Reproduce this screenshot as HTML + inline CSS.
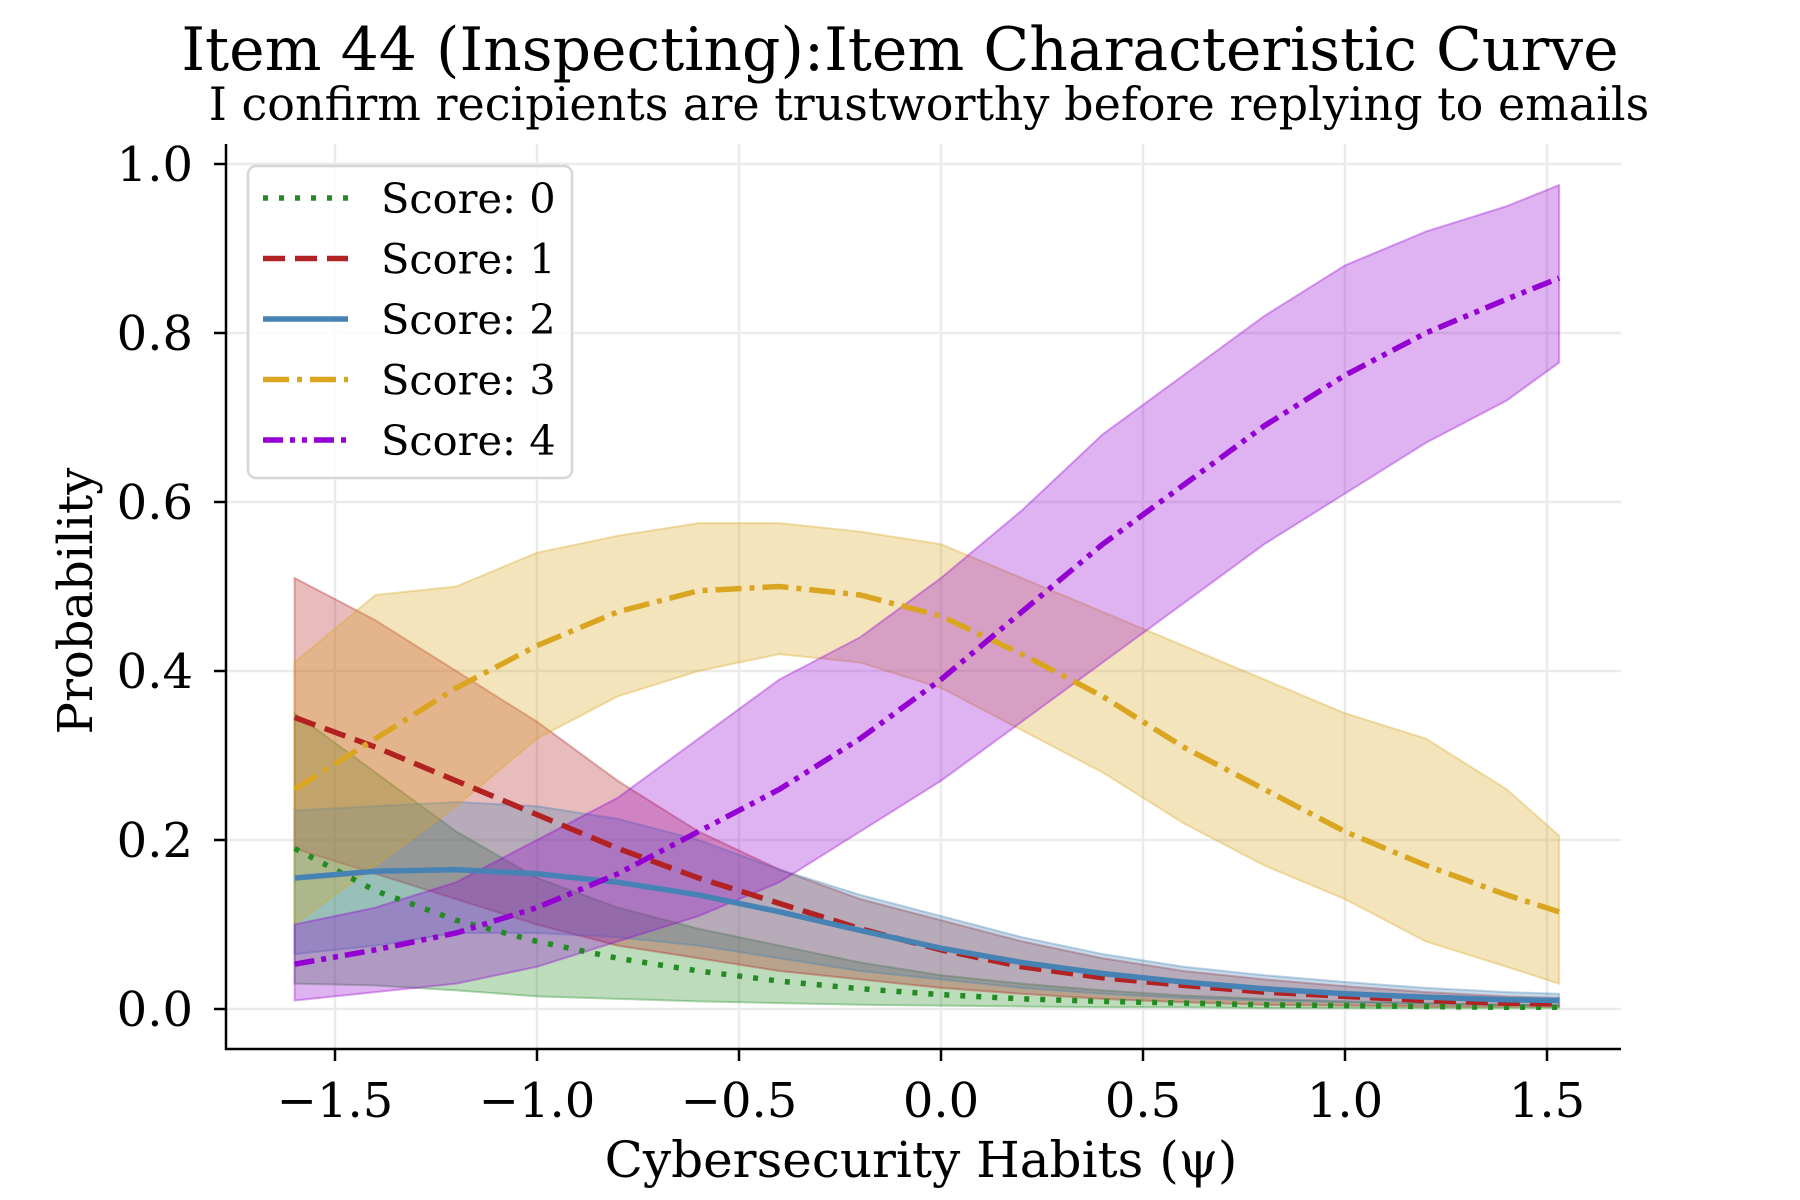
<!DOCTYPE html>
<html><head><meta charset="utf-8"><style>
html,body{margin:0;padding:0;background:#fff;}
svg{display:block;font-family:"DejaVu Serif","Liberation Serif",serif;}
</style></head><body>
<svg id="chart" width="1800" height="1200" viewBox="0 0 1800 1200">
<text x="900" y="70" font-size="60" text-anchor="middle">Item 44 (Inspecting):Item Characteristic Curve</text>
<text x="929" y="120" font-size="46" text-anchor="middle">I confirm recipients are trustworthy before replying to emails</text>
<g id="grid"></g>
<g id="plot"></g>
<g id="axes"></g>
<text x="921" y="1177" font-size="50" text-anchor="middle">Cybersecurity Habits (ψ)</text>
<text x="0" y="0" font-size="48" text-anchor="middle" transform="translate(92,601) rotate(-90)">Probability</text>
<g id="legend"></g>
</svg>
<script>
const xs = [-1.6,-1.4,-1.2,-1.0,-0.8,-0.6,-0.4,-0.2,0,0.2,0.4,0.6,0.8,1.0,1.2,1.4,1.53];
const seriesLabels = ["Score: 0","Score: 1","Score: 2","Score: 3","Score: 4"];
const mean0 = [0.19,0.14,0.105,0.08,0.06,0.045,0.033,0.024,0.017,0.012,0.009,0.007,0.005,0.004,0.003,0.002,0.002];
const lower0 = [0.03,0.028,0.022,0.015,0.012,0.009,0.007,0.005,0.004,0.003,0.002,0.002,0.001,0.001,0.001,0.001,0.001];
const upper0 = [0.35,0.28,0.21,0.155,0.12,0.095,0.075,0.055,0.04,0.03,0.022,0.016,0.012,0.009,0.007,0.005,0.004];
const mean1 = [0.345,0.31,0.27,0.23,0.19,0.155,0.125,0.095,0.07,0.05,0.037,0.028,0.02,0.015,0.01,0.007,0.006];
const lower1 = [0.19,0.16,0.13,0.10,0.075,0.06,0.045,0.035,0.025,0.018,0.012,0.008,0.005,0.004,0.003,0.003,0.003];
const upper1 = [0.51,0.46,0.40,0.34,0.27,0.21,0.165,0.13,0.105,0.08,0.06,0.045,0.035,0.027,0.02,0.015,0.013];
const mean2 = [0.155,0.163,0.165,0.16,0.15,0.135,0.115,0.093,0.072,0.055,0.042,0.032,0.024,0.018,0.014,0.011,0.01];
const lower2 = [0.065,0.075,0.09,0.09,0.085,0.075,0.06,0.045,0.035,0.025,0.018,0.013,0.01,0.008,0.006,0.005,0.004];
const upper2 = [0.235,0.24,0.245,0.24,0.225,0.2,0.165,0.135,0.11,0.085,0.065,0.05,0.04,0.032,0.025,0.02,0.018];
const mean3 = [0.26,0.32,0.38,0.43,0.47,0.495,0.50,0.49,0.465,0.42,0.37,0.31,0.26,0.21,0.17,0.135,0.115];
const lower3 = [0.10,0.17,0.24,0.32,0.37,0.40,0.42,0.41,0.38,0.33,0.28,0.22,0.17,0.13,0.08,0.05,0.03];
const upper3 = [0.41,0.49,0.50,0.54,0.56,0.575,0.575,0.565,0.55,0.51,0.47,0.43,0.39,0.35,0.32,0.26,0.205];
const mean4 = [0.053,0.07,0.09,0.12,0.16,0.21,0.26,0.32,0.39,0.47,0.55,0.62,0.69,0.75,0.80,0.84,0.865];
const lower4 = [0.01,0.02,0.03,0.05,0.08,0.11,0.15,0.21,0.27,0.34,0.41,0.48,0.55,0.61,0.67,0.72,0.765];
const upper4 = [0.10,0.12,0.15,0.20,0.25,0.32,0.39,0.44,0.51,0.59,0.68,0.75,0.82,0.88,0.92,0.95,0.975];
const xTicks = [-1.5,-1.0,-0.5,0.0,0.5,1.0,1.5];
const xTickLabels = ["\u22121.5","\u22121.0","\u22120.5","0.0","0.5","1.0","1.5"];
const yTicks = [0,0.2,0.4,0.6,0.8,1.0];
const yTickLabels = ["0.0","0.2","0.4","0.6","0.8","1.0"];

const NS="http://www.w3.org/2000/svg";
const L=226,R=1621,T=144,B=1049;
function sx(v){return 941+v*404;}
function sy(v){return 1009-v*845;}
function mk(tag,attrs,parent){const e=document.createElementNS(NS,tag);for(const k in attrs)e.setAttribute(k,attrs[k]);parent.appendChild(e);return e;}
const grid=document.getElementById('grid'),plot=document.getElementById('plot'),axes=document.getElementById('axes'),legend=document.getElementById('legend');
xTicks.forEach((t,i)=>{
  const g=mk('line',{x1:sx(t),x2:sx(t),y1:T,y2:B,stroke:'#ebebeb','stroke-width':2.5},grid);
  
  
  const tk=mk('line',{x1:sx(t),x2:sx(t),y1:B,y2:B+12,stroke:'#000','stroke-width':2.5},axes);
  
  
  const tx=mk('text',{x:sx(t),y:1117,'font-size':48,'text-anchor':'middle'},axes);
  tx.textContent=xTickLabels[i];
  
  
});
yTicks.forEach((t,i)=>{
  const g=mk('line',{x1:L,x2:R,y1:sy(t),y2:sy(t),stroke:'#ebebeb','stroke-width':2.5},grid);
  
  
  const tk=mk('line',{x1:L-12,x2:L,y1:sy(t),y2:sy(t),stroke:'#000','stroke-width':2.5},axes);
  
  
  const tx=mk('text',{x:193,y:sy(t)+17,'font-size':48,'text-anchor':'end'},axes);
  tx.textContent=yTickLabels[i];
  
  
});
const sp1=mk('line',{x1:L,x2:L,y1:T,y2:B+1,stroke:'#000','stroke-width':2.5},axes);


const sp2=mk('line',{x1:L-1,x2:R,y1:B,y2:B,stroke:'#000','stroke-width':2.5},axes);



const colors=['#228B22','#B22222','#4682B4','#DAA520','#9400D3'];
const dashes=['5,11','22,10','','26,8,5,8','20,7,5,7,5,7'];
const means=[mean0,mean1,mean2,mean3,mean4],lowers=[lower0,lower1,lower2,lower3,lower4],uppers=[upper0,upper1,upper2,upper3,upper4];
for(let s=0;s<5;s++){
  let d='M'+xs.map((x,i)=>sx(x)+','+sy(uppers[s][i])).join('L');
  for(let i=xs.length-1;i>=0;i--) d+='L'+sx(xs[i])+','+sy(lowers[s][i]);
  d+='Z';
  const band=mk('path',{d:d,fill:colors[s],'fill-opacity':0.3,stroke:colors[s],'stroke-opacity':0.35,'stroke-width':2},plot);
  
  
}
for(let s=0;s<5;s++){
  const pts=xs.map((x,i)=>sx(x)+','+sy(means[s][i])).join(' ');
  const a={points:pts,fill:'none',stroke:colors[s],'stroke-width':5.5};
  if(dashes[s])a['stroke-dasharray']=dashes[s];
  const ln=mk('polyline',a,plot);
  
  
}
const box=mk('rect',{x:248,y:166,width:324,height:312,rx:8,fill:'#fff','fill-opacity':0.85,stroke:'#d6d6d6','stroke-width':2.5},legend);


for(let s=0;s<5;s++){
  const y=198+s*60.5;
  const a={x1:263,x2:348,y1:y,y2:y,stroke:colors[s],'stroke-width':5.5};
  if(dashes[s])a['stroke-dasharray']=dashes[s];
  const ln=mk('line',a,legend);
  
  
  const tx=mk('text',{x:381,y:y+15,'font-size':41.5},legend);
  tx.textContent=seriesLabels[s];
  
  
}
</script>
</body></html>
